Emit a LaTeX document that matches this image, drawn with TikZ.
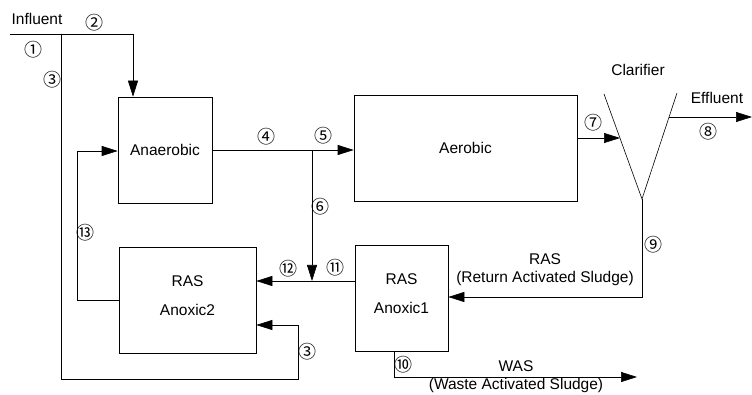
\documentclass[tikz,border=0pt]{standalone}
\usepackage{fontspec}
\setmainfont{Liberation Sans}
\newfontfamily\cnumfont{Noto Sans CJK JP}
\usetikzlibrary{arrows.meta}
\begin{document}
\begin{tikzpicture}[x=1pt,y=-1pt,line width=0.6pt,
  box/.style={draw,line width=0.6pt,inner sep=0pt,align=center,font=\fontsize{15.5}{29}\selectfont},
  arr/.style={-{Triangle[length=16pt,width=10pt]}},
  lbl/.style={font=\fontsize{15.5}{18}\selectfont,inner sep=0pt},
  num/.style={font=\cnumfont\fontsize{18}{18}\selectfont,inner sep=0pt}]
\useasboundingbox (0,0) rectangle (752,395);
% boxes
\node[box,minimum width=94pt,minimum height=106pt] (anaer) at (165,150) {Anaerobic};
\node[box,minimum width=223pt,minimum height=106pt] (aer) at (465.5,148) {Aerobic};
\node[box,minimum width=93pt,minimum height=106pt,text depth=8pt] (anox1) at (401.5,298) {RAS\\Anoxic1};
\node[box,minimum width=137pt,minimum height=106pt,text depth=8pt] (anox2) at (187.5,300) {RAS\\Anoxic2};
% clarifier
\coordinate (cll) at (604,94);
\coordinate (apex) at (642,199);
\coordinate (clr) at (677,93);
\draw (cll) -- (apex) -- (clr);
% coordinates
\coordinate (inl) at (10,34);
\coordinate (split) at (61,34);
\coordinate (c2) at (133,34);
\coordinate (b1) at (61,379);
\coordinate (b2) at (298,379);
\coordinate (b3) at (298,325);
\coordinate (j1) at (312,150);
\coordinate (j2) at (312,281);
\coordinate (r13a) at (77,300);
\coordinate (r13b) at (77,151);
\coordinate (c7) at (620,138);
\coordinate (c8) at (669,117);
\coordinate (eff) at (752,117);
\coordinate (r9) at (642,297);
\coordinate (w1) at (394,377);
\coordinate (w2) at (637,377);
% connectors
\draw (inl) -- (split);
\draw[arr] (split) -- (c2) -- (c2 |- anaer.north);
\draw[arr] (split) -- (b1) -- (b2) -- (b3) -- (b3 -| anox2.east);
\draw[arr] (anaer.east) -- (anaer.east -| aer.west);
\draw[arr] (j1) -- (j2);
\draw[arr] (j2 -| anox1.west) -- (j2 -| anox2.east);
\draw[arr] (c7 -| aer.east) -- (c7);
\draw[arr] (c8) -- (eff);
\draw[arr] (apex) -- (r9) -- (r9 -| anox1.east);
\draw[arr] (w1 |- anox1.south) -- (w1) -- (w2);
\draw[arr] (r13a -| anox2.west) -- (r13a) -- (r13b) -- (r13b -| anaer.west);
% labels
\node[lbl] (tinf) at (37,19) {Influent};
\node[lbl] (tcla) at (638,70) {Clarifier};
\node[lbl] (teff) at (717,98) {Effluent};
\node[lbl,align=center] (tras) at (545,270) {RAS\\(Return Activated Sludge)};
\node[lbl,align=center] (twas) at (516,377) {WAS\\(Waste Activated Sludge)};
% numbers
\node[num] (n1) at (33,50) {①};
\node[num] (n2) at (94,23) {②};
\node[num] (n3a) at (52,80) {③};
\node[num] (n4) at (266,137) {④};
\node[num] (n5) at (323,136) {⑤};
\node[num] (n6) at (320,207) {⑥};
\node[num] (n7) at (593,123) {⑦};
\node[num] (n8) at (708,132) {⑧};
\node[num] (n9) at (653,245) {⑨};
\node[num] (n10) at (403,365) {⑩};
\node[num] (n11) at (335,268) {⑪};
\node[num] (n12) at (288,269) {⑫};
\node[num] (n13) at (85,233) {⑬};
\node[num] (n3b) at (307,352) {③};
\end{tikzpicture}
\end{document}
